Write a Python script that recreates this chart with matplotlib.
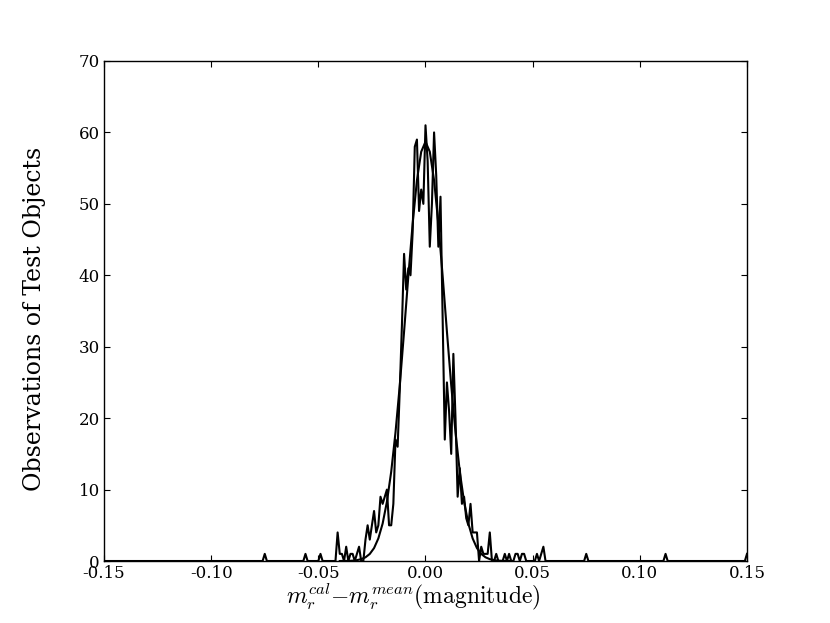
import numpy as np
import matplotlib
matplotlib.use("Agg")
import matplotlib.pyplot as plt

# histogram bins (0.001 mag wide), counts in the central region
bin_width = 0.001
central_start = -0.042
central_counts = [0, 4, 1, 1, 0, 2, 0, 1, 1, 0, 1, 2, 0, 0, 3, 5, 3, 5, 7, 4,
                  5, 9, 8, 9, 10, 5, 5, 8, 17, 16, 24, 33, 43, 38, 41, 40, 46, 58, 59, 49,
                  52, 50, 61, 56, 44, 50, 60, 54, 44, 51, 34, 17, 25, 21, 15, 29, 20, 9, 13, 8,
                  9, 6, 5, 8, 4, 4, 4, 0, 2, 1, 1, 1, 4, 0, 0, 1, 0, 0, 0, 1,
                  0, 1, 0, 0, 1, 1, 0, 1, 1, 0, 0, 0, 0, 0, 1, 0, 1, 2]
# isolated single observations far from the centre
outlier_x = [-0.075, -0.056, -0.049, 0.075, 0.112, 0.150]
outlier_counts = [1, 1, 1, 1, 1, 1]

# gaussian fit curve
fit_x = [-0.040, -0.038, -0.036, -0.034, -0.032, -0.030, -0.028, -0.026, -0.024, -0.022,
         -0.020, -0.018, -0.016, -0.014, -0.012, -0.010, -0.008, -0.006, -0.004, -0.002,
         0.000, 0.002, 0.004, 0.006, 0.008, 0.010, 0.012, 0.014, 0.016, 0.018,
         0.020, 0.022, 0.024, 0.026, 0.028, 0.030, 0.032, 0.034, 0.036, 0.038, 0.040]
fit_y = [0.0, 0.01, 0.02, 0.05, 0.12, 0.26, 0.52, 0.99, 1.81, 3.16,
         5.24, 8.3, 12.5, 18.0, 24.6, 32.1, 39.9, 47.2, 53.3, 57.3,
         58.7, 57.3, 53.3, 47.2, 39.9, 32.1, 24.6, 18.0, 12.5, 8.3,
         5.24, 3.16, 1.81, 0.99, 0.52, 0.26, 0.12, 0.05, 0.02, 0.01, 0.0]

# full bin grid from -0.15 to 0.15
idx = np.arange(-150, 151)
hist_x = idx * bin_width
hist_y = np.zeros(len(idx))
k0 = int(round(central_start / bin_width)) + 150
hist_y[k0:k0 + len(central_counts)] = central_counts
for ox, oc in zip(outlier_x, outlier_counts):
    hist_y[int(round(ox / bin_width)) + 150] = oc

plt.rcParams['font.family'] = 'DejaVu Serif'
plt.rcParams['mathtext.fontset'] = 'cm'
plt.rcParams['xtick.direction'] = 'in'
plt.rcParams['ytick.direction'] = 'in'
plt.rcParams['xtick.top'] = True
plt.rcParams['ytick.right'] = True

fig = plt.figure(figsize=(8.3, 6.23), dpi=100)
ax = fig.add_axes([0.1253, 0.0995, 0.7747, 0.8026])

ax.plot(hist_x, hist_y, color='black', linewidth=1.5)
ax.plot(fit_x, fit_y, color='black', linewidth=1.5)

ax.set_xlim(-0.15, 0.15)
ax.set_ylim(0, 70)
ax.set_xticks([-0.15, -0.10, -0.05, 0.00, 0.05, 0.10, 0.15])
ax.set_xticklabels(['-0.15', '-0.10', '-0.05', '0.00', '0.05', '0.10', '0.15'])
ax.set_yticks(range(0, 71, 10))
ax.tick_params(labelsize=12, length=4, width=0.8, pad=3)
for s in ax.spines.values():
    s.set_linewidth(1.0)

ax.set_xlabel(r'$m_r^{cal}{-}m_r^{mean}(\mathrm{magnitude})$', fontsize=17)
ax.xaxis.set_label_coords(0.481, -0.041)
ax.set_ylabel('Observations of Test Objects', fontsize=17)
ax.yaxis.set_label_coords(-0.09, 0.484)

fig.savefig('out.png', dpi=100)
